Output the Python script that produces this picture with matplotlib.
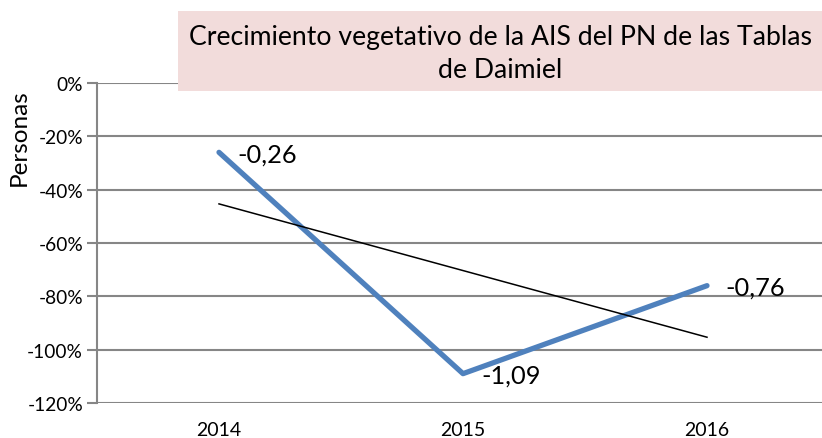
import matplotlib.pyplot as plt
import numpy as np
from matplotlib.patches import Rectangle
from matplotlib.ticker import FuncFormatter

# Datos
years = ["2014", "2015", "2016"]
crecimiento = [-0.26, -1.09, -0.76]
etiquetas = ["-0,26", "-1,09", "-0,76"]
titulo = "Crecimiento vegetativo de la AIS del PN de las Tablas\nde Daimiel"

plt.rcParams['font.family'] = ['Lato', 'DejaVu Sans']

W, H = 822, 439
fig = plt.figure(figsize=(W / 100, H / 100), dpi=100)
ax = fig.add_axes([97 / W, 1 - 404 / H, (W - 97) / W, 320 / H])

x = np.arange(len(years))
vals = np.array(crecimiento) * 100

# gridlines
grid_col = "#868686"
ax.set_ylim(-120, 0)
ax.set_yticks(np.arange(-120, 1, 20))
ax.yaxis.grid(True, color=grid_col, linewidth=1.5)
ax.set_axisbelow(True)
for s in ["top", "right", "bottom"]:
    ax.spines[s].set_visible(False)
ax.spines["left"].set_color(grid_col)
ax.spines["left"].set_linewidth(1.5)
ax.tick_params(axis="y", length=7, width=1.5, color=grid_col, labelsize=13.8, pad=3)
ax.tick_params(axis="x", length=0, labelsize=14, pad=13)
ax.yaxis.set_major_formatter(FuncFormatter(lambda v, p: f"{int(round(v))}%"))

# serie + linea de tendencia
ax.plot(x, vals, color="#4F81BD", linewidth=3.8, solid_capstyle="round", zorder=3)
coef = np.polyfit(x, vals, 1)
ax.plot(x, np.polyval(coef, x), color="black", linewidth=1.1, zorder=4)

for xi, v, lab in zip(x, vals, etiquetas):
    ax.annotate(lab, (xi, v), xytext=(13, -1), textcoords="offset points",
                ha="left", va="center", fontsize=18.3)

ax.set_xticks(x)
ax.set_xticklabels(years)
ax.set_xlim(-0.5, (W - 97) / 244 - 0.5)

fig.text(19 / W, 1 - 138 / H, "Personas", rotation=90, ha="center", va="center", fontsize=17.5)

# caja del titulo
fig.patches.append(Rectangle((178 / W, 1 - 92 / H), (W - 178) / W, 80 / H,
                             transform=fig.transFigure, facecolor="#F2DCDB",
                             edgecolor="none", zorder=5))
fig.text(500 / W, 1 - 54 / H, titulo, ha="center", va="center", fontsize=19.2,
         linespacing=1.4, zorder=6)

fig.savefig("out.png", dpi=100)
